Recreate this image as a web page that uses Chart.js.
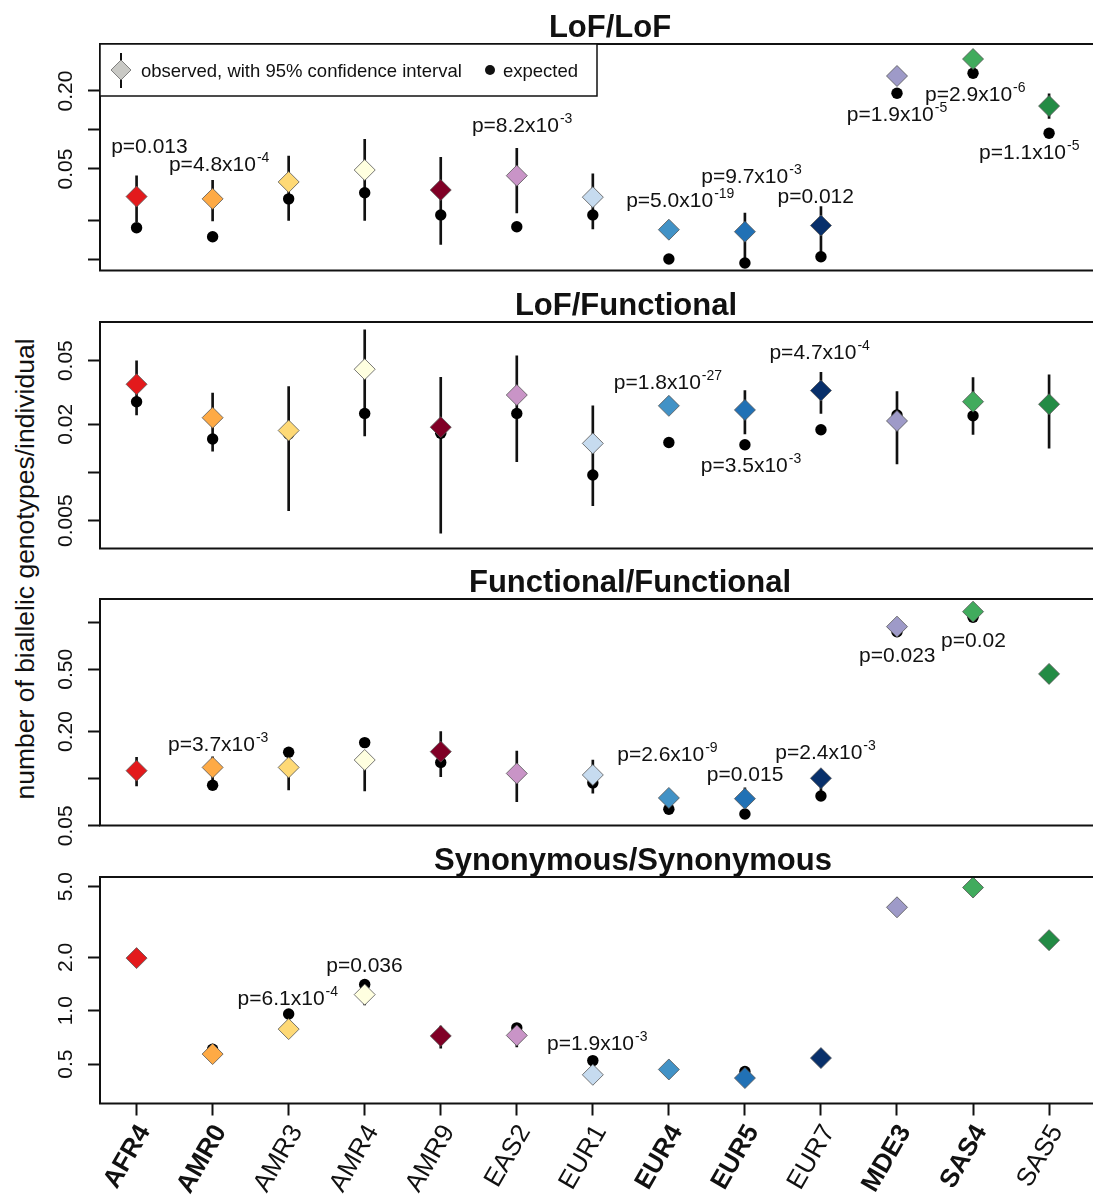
<!DOCTYPE html>
<html><head><meta charset="utf-8">
<script src="https://cdn.jsdelivr.net/npm/chart.js@4.4.1/dist/chart.umd.min.js"></script>
<style>
html,body{margin:0;padding:0;background:#fff;overflow:hidden;width:1093px;height:1197px;position:relative;}
.panel{position:absolute;left:0;width:1093px;}
.panel canvas{display:block;}
#ytitle{position:absolute;left:25px;top:569px;transform:translate(-50%,-50%) rotate(-90deg);font:26.5px "Liberation Sans",Arial,Helvetica,sans-serif;white-space:nowrap;color:#111;}
</style></head><body>
<div id="ytitle">number of biallelic genotypes/individual</div>
<script>
// ---------------- data ----------------
const categories = ['AFR4','AMR0','AMR3','AMR4','AMR9','EAS2','EUR1','EUR4','EUR5','EUR7','MDE3','SAS4','SAS5'];
const boldCategories = ['AFR4','AMR0','EUR4','EUR5','MDE3','SAS4'];
const groupColors = ['#E31A1C','#FEAA45','#FED976','#FFFFE0','#800026','#C994C7','#C6DBEF','#4292C6','#2171B5','#08306B','#9E9AC8','#41AB5D','#238B45'];

// LoF/LoF
const lofLofObs = [0.0306,0.0294,0.0397,0.0491,0.0344,0.0444,0.0303,0.0170,0.0164,0.0183,0.261,0.353,0.153];
const lofLofLo  = [0.0196,0.0199,0.0200,0.0200,0.0131,0.0229,0.0172,0.0157,0.0098,0.0108,0.240,0.325,0.123];
const lofLofHi  = [0.0442,0.0409,0.0630,0.0847,0.0615,0.0723,0.0458,0.0184,0.0228,0.0256,0.285,0.385,0.190];
const lofLofExp = [0.0176,0.0150,0.0294,0.0328,0.0221,0.0179,0.0221,0.0101,0.0094,0.0105,0.192,0.274,0.0944];
const lofLofTicks = [0.01,0.02,0.05,0.1,0.2];
const lofLofTickLabels = ['','','0.05','','0.20'];
const lofLofPText = ['0.013','4.8x10^-4','8.2x10^-3','5.0x10^-19','9.7x10^-3','0.012','1.9x10^-5','2.9x10^-6','1.1x10^-5'];

// LoF/Functional
const lofFunObs = [0.0356,0.0220,0.0183,0.0442,0.0192,0.0305,0.0152,0.0261,0.0246,0.0325,0.0210,0.0277,0.0267];
const lofFunLo  = [0.0229,0.0136,0.00577,0.0169,0.00417,0.0117,0.0062,0.0240,0.0174,0.0234,0.0113,0.0173,0.0142];
const lofFunHi  = [0.0498,0.0313,0.0344,0.0778,0.0394,0.0535,0.0261,0.0284,0.0325,0.0423,0.0320,0.0392,0.0407];
const lofFunExp = [0.0277,0.0162,0.0174,0.0234,0.0176,0.0234,0.00965,0.0154,0.0149,0.0185,0.0229,0.0226,0.0265];
const lofFunTicks = [0.005,0.01,0.02,0.05];
const lofFunTickLabels = ['0.005','','0.02','0.05'];
const lofFunPText = ['1.8x10^-27','3.5x10^-3','4.7x10^-4'];

// Functional/Functional
const funFunObs = [0.1125,0.118,0.118,0.1316,0.1488,0.108,0.1056,0.0753,0.0745,0.1006,0.936,1.167,0.467];
const funFunLo  = [0.0898,0.095,0.0847,0.0834,0.103,0.0713,0.0807,0.070,0.066,0.083,0.88,1.10,0.44];
const funFunHi  = [0.137,0.138,0.140,0.148,0.1997,0.150,0.1316,0.081,0.0875,0.112,0.99,1.24,0.50];
const funFunExp = [0.112,0.0907,0.1475,0.170,0.127,0.108,0.094,0.0637,0.0595,0.0775,0.869,1.075,0.467];
const funFunTicks = [0.05,0.1,0.2,0.5,1];
const funFunTickLabels = ['0.05','','0.20','0.50',''];
const funFunPText = ['3.7x10^-3','2.6x10^-9','0.015','2.4x10^-3','0.023','0.02'];

// Synonymous/Synonymous
const synSynObs = [1.98,0.570,0.788,1.233,0.721,0.726,0.4355,0.4666,0.4174,0.541,3.83,4.95,2.50];
const synSynLo  = [1.90,0.55,0.75,1.08,0.615,0.626,0.42,0.45,0.40,0.52,3.70,4.80,2.40];
const synSynHi  = [2.06,0.59,0.82,1.395,0.819,0.76,0.45,0.48,0.43,0.56,3.95,5.10,2.60];
const synSynExp = [1.98,0.607,0.959,1.407,0.73,0.801,0.5234,0.466,0.455,0.541,3.83,4.95,2.50];
const synSynTicks = [0.5,1,2,5];
const synSynTickLabels = ['0.5','1.0','2.0','5.0'];
const synSynPText = ['0.036','6.1x10^-4','1.9x10^-3'];

// ---------------- layout (annotation anchors in data units, axis ranges) ----------------
const FONT = '"Liberation Sans", Arial, Helvetica, sans-serif';
const panels = [
  {title:'LoF/LoF', titleX:610, top:44, obs:lofLofObs, lo:lofLofLo, hi:lofLofHi, exp:lofLofExp,
   ticks:lofLofTicks, tickLabels:lofLofTickLabels, min:0.00823, max:0.461, pText:lofLofPText,
   pAt:[[1.169,0.0757],[2.086,0.0556],[6.070,0.1093],[8.150,0.02884],[9.086,0.0444],[9.931,0.03096],[11.0,0.1329],[12.03,0.192],[12.739,0.0677]], legend:true},
  {title:'LoF/Functional', titleX:626, top:322, obs:lofFunObs, lo:lofFunLo, hi:lofFunHi, exp:lofFunExp,
   ticks:lofFunTicks, tickLabels:lofFunTickLabels, min:0.00335, max:0.0872, pText:lofFunPText,
   pAt:[[7.988,0.03696],[9.080,0.01115],[9.983,0.0569]]},
  {title:'Functional/Functional', titleX:630, top:599, obs:funFunObs, lo:funFunLo, hi:funFunHi, exp:funFunExp,
   ticks:funFunTicks, tickLabels:funFunTickLabels, min:0.0502, max:1.406, pText:funFunPText,
   pAt:[[2.073,0.1683],[7.981,0.1453],[9.002,0.1083],[10.061,0.1487],[11.004,0.617],[12.005,0.770]]},
  {title:'Synonymous/Synonymous', titleX:633, top:877, obs:synSynObs, lo:synSynLo, hi:synSynHi, exp:synSynExp,
   ticks:synSynTicks, tickLabels:synSynTickLabels, min:0.3131, max:5.675, pText:synSynPText,
   pAt:[[3.997,1.824],[2.989,1.187],[7.058,0.6615]], xAxis:true}
];
const PLOT_H = 226.5, PAD_TOP = 44, XMIN = 0.519, XMAX = 13.429;

function drawP(ctx, text, cx, cy) {
  const parts = text.split('^');
  const main = 'p=' + parts[0];
  ctx.font = '21px ' + FONT;
  const w1 = ctx.measureText(main).width;
  let w2 = 0;
  if (parts[1]) { ctx.font = '14px ' + FONT; w2 = ctx.measureText(parts[1]).width + 1; }
  const x0 = cx - (w1 + w2) / 2, base = cy + 7.5;
  ctx.fillStyle = '#111'; ctx.textAlign = 'left'; ctx.textBaseline = 'alphabetic';
  ctx.font = '21px ' + FONT; ctx.fillText(main, x0, base);
  if (parts[1]) { ctx.font = '14px ' + FONT; ctx.fillText(parts[1], x0 + w1 + 1, base - 9); }
}

const decoPlugin = {
  id: 'deco',
  afterDatasetsDraw(chart, args, o) {
    const ctx = chart.ctx, a = chart.chartArea, p = o.panel;
    ctx.save();
    // frame
    ctx.strokeStyle = '#111'; ctx.lineWidth = 2;
    ctx.beginPath();
    ctx.moveTo(chart.width + 5, a.top); ctx.lineTo(a.left, a.top); ctx.lineTo(a.left, a.bottom); ctx.lineTo(chart.width + 5, a.bottom);
    ctx.stroke();
    // y tick labels (rotated)
    const ys = chart.scales.y;
    ctx.fillStyle = '#111'; ctx.font = '21px ' + FONT; ctx.textAlign = 'center'; ctx.textBaseline = 'middle';
    p.ticks.forEach((v, i) => {
      const lab = p.tickLabels[i]; if (!lab) return;
      ctx.save(); ctx.translate(65, ys.getPixelForValue(v)); ctx.rotate(-Math.PI / 2); ctx.fillText(lab, 0, 1); ctx.restore();
    });
    // title
    ctx.font = 'bold 31px ' + FONT; ctx.textAlign = 'center'; ctx.textBaseline = 'alphabetic';
    ctx.fillText(p.title, p.titleX, a.top - 7.4);
    // p-value labels
    const xs = chart.scales.x;
    p.pText.forEach((t, i) => drawP(ctx, t, xs.getPixelForValue(p.pAt[i][0]), ys.getPixelForValue(p.pAt[i][1])));
    // legend
    if (p.legend) {
      ctx.fillStyle = '#fff'; ctx.fillRect(a.left, a.top, 497, 52);
      ctx.strokeStyle = '#111'; ctx.lineWidth = 1.5; ctx.strokeRect(a.left, a.top, 497, 52);
      ctx.lineWidth = 2; ctx.beginPath(); ctx.moveTo(121, a.top + 9); ctx.lineTo(121, a.top + 44); ctx.stroke();
      ctx.beginPath(); ctx.moveTo(121, a.top + 16); ctx.lineTo(131, a.top + 26); ctx.lineTo(121, a.top + 36); ctx.lineTo(111, a.top + 26); ctx.closePath();
      ctx.fillStyle = '#C9C9C5'; ctx.fill(); ctx.strokeStyle = '#666'; ctx.lineWidth = 0.8; ctx.stroke();
      ctx.fillStyle = '#111'; ctx.font = '18.5px ' + FONT; ctx.textAlign = 'left';
      ctx.fillText('observed, with 95% confidence interval', 141, a.top + 33);
      ctx.beginPath(); ctx.arc(490, a.top + 26, 5, 0, Math.PI * 2); ctx.fill();
      ctx.fillText('expected', 503, a.top + 33);
    }
    ctx.restore();
  }
};

panels.forEach((p, k) => {
  const div = document.createElement('div');
  div.className = 'panel';
  const h = p.xAxis ? (1197 - (p.top - PAD_TOP)) : 300;
  div.style.top = (p.top - PAD_TOP) + 'px';
  div.style.height = h + 'px';
  const cv = document.createElement('canvas');
  cv.width = 1093; cv.height = h;
  div.appendChild(cv); document.body.appendChild(div);

  const bars = categories.map((c, i) => ({x: i + 1, y: [p.lo[i], p.hi[i]]}));
  const exps = categories.map((c, i) => ({x: i + 1, y: p.exp[i]}));
  const obs = categories.map((c, i) => ({x: i + 1, y: p.obs[i]}));

  new Chart(cv, {
    type: 'scatter',
    data: {
      datasets: [
        {type: 'bar', data: bars, backgroundColor: '#111', borderWidth: 0, barThickness: 2, grouped: false, order: 2},
        {type: 'scatter', data: exps, pointRadius: 5.7, pointHoverRadius: 5.7, backgroundColor: '#000', borderWidth: 0, order: 1},
        {type: 'scatter', data: obs, pointStyle: 'rectRot', pointRadius: 10.5, pointHoverRadius: 10.5,
         backgroundColor: groupColors, borderColor: '#555', borderWidth: 0.8, order: 0}
      ]
    },
    options: {
      responsive: false, animation: false, events: [],
      layout: {padding: {top: PAD_TOP, left: 0, right: 0, bottom: p.xAxis ? 0 : (h - PAD_TOP - PLOT_H)}},
      plugins: {legend: {display: false}, tooltip: {enabled: false}, deco: {panel: p}},
      scales: {
        x: {
          type: 'linear', min: XMIN, max: XMAX, display: !!p.xAxis, offset: false,
          afterBuildTicks: s => { s.ticks = categories.map((c, i) => ({value: i + 1})); },
          afterFit: s => { s.height = p.xAxis ? (h - PAD_TOP - PLOT_H) : 0; },
          grid: {offset: false, drawOnChartArea: false, drawTicks: true, tickLength: 12, tickWidth: 2, tickColor: '#111'},
          border: {display: false},
          ticks: {
            autoSkip: false, maxRotation: 60, minRotation: 60, padding: 4, labelOffset: 8, color: '#111',
            callback: (v, i) => categories[i],
            font: ctx => ({family: FONT, size: 26, weight: boldCategories.includes(categories[ctx.index]) ? 'bold' : 'normal'})
          }
        },
        y: {
          type: 'logarithmic', min: p.min, max: p.max, position: 'left',
          afterBuildTicks: s => { s.ticks = p.ticks.map(v => ({value: v})); },
          afterFit: s => { s.width = 100; },
          grid: {drawOnChartArea: false, drawTicks: true, tickLength: 12, tickWidth: 2, tickColor: '#111'},
          border: {display: false},
          ticks: {display: false}
        }
      }
    },
    plugins: [decoPlugin]
  });
});
</script>
</body></html>
